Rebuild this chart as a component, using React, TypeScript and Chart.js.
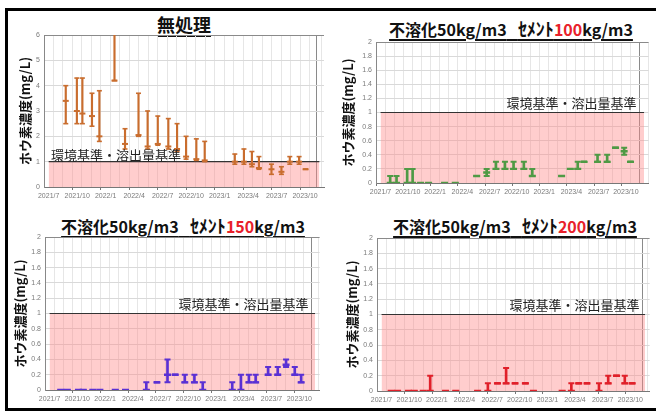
import React, { useEffect, useRef } from 'react';
import { Chart, registerables } from 'chart.js';

Chart.register(...registerables);
Chart.defaults.font.family = '"Liberation Sans", Arial, sans-serif';

// ---- data (x = months after 2021/7) ----
const xTickLabels = ['2021/7', '2021/10', '2022/1', '2022/4', '2022/7', '2022/10', '2023/1', '2023/4', '2023/7', '2023/10'];
const refLabel = '環境基準・溶出量基準';
const yAxisTitle = 'ホウ素濃度(mg/L)';
const standardValue = 1;

const untreatedMonths = [1.8, 2.97, 3.55, 4.56, 5.34, 6.93, 8.04, 9.46, 10.42, 11.49, 12.6, 13.52, 14.47, 15.55, 16.43, 19.6, 20.56, 21.4, 22.14, 23.46, 24.51, 25.39, 26.37, 27.05];
const untreatedMin = [2.5, 2.5, 2.5, 2.4, 1.8, 4.2, 1.5, 2.0, 1.5, 1.65, 1.5, 1.4, 1.1, 1.05, 1.0, 0.9, 0.9, 0.8, 0.7, 0.5, 0.5, 0.9, 0.9, 0.7];
const untreatedMax = [4.0, 4.3, 4.3, 3.7, 3.8, 7.0, 2.3, 3.7, 3.0, 2.8, 2.7, 2.5, 2.0, 1.9, 1.8, 1.3, 1.5, 1.4, 1.2, 0.9, 0.8, 1.2, 1.2, 0.7];
const untreatedMean = [3.4, 3.0, 2.9, 2.8, 2.0, 4.2, 1.7, 2.05, 1.6, 1.7, 1.6, 1.5, 1.2, 1.1, 1.05, 1.0, 1.0, 0.9, 0.75, 0.7, 0.6, 1.0, 1.0, 0.7];

const cem100Months = [1.06, 1.76, 2.93, 3.53, 4.41, 5.29, 7.05, 8.22, 10.58, 11.68, 12.7, 13.69, 14.64, 15.77, 16.7, 19.93, 20.88, 21.7, 22.4, 23.88, 24.94, 25.86, 26.81, 27.51];
const cem100Min = [0, 0, 0, 0, 0, 0, 0, 0, 0.1, 0.1, 0.2, 0.2, 0.2, 0.2, 0.1, 0.1, 0.2, 0.2, 0.3, 0.3, 0.3, 0.5, 0.4, 0.3];
const cem100Max = [0.1, 0.1, 0.2, 0.2, 0, 0, 0, 0, 0.1, 0.2, 0.3, 0.3, 0.3, 0.3, 0.2, 0.1, 0.2, 0.3, 0.3, 0.4, 0.4, 0.5, 0.5, 0.3];
const cem100Mean = [0, 0, 0, 0, 0, 0, 0, 0, 0.1, 0.15, 0.2, 0.2, 0.2, 0.2, 0.1, 0.1, 0.2, 0.2, 0.3, 0.3, 0.3, 0.5, 0.45, 0.3];

const cem150Months = [1.21, 1.91, 3.12, 3.64, 4.68, 5.44, 7.1, 8.21, 10.46, 11.61, 12.75, 13.58, 14.62, 15.66, 16.56, 19.75, 20.69, 21.55, 22.28, 23.63, 24.67, 25.57, 26.51, 27.2];
const cem150Min = [0, 0, 0, 0, 0, 0, 0, 0, 0, 0.1, 0.1, 0.2, 0.1, 0.1, 0, 0, 0, 0.1, 0.1, 0.2, 0.2, 0.3, 0.2, 0.1];
const cem150Max = [0, 0, 0, 0, 0, 0, 0, 0, 0.1, 0.1, 0.4, 0.2, 0.2, 0.2, 0.1, 0.1, 0.2, 0.2, 0.2, 0.3, 0.3, 0.4, 0.3, 0.2];
const cem150Mean = [0, 0, 0, 0, 0, 0, 0, 0, 0, 0.1, 0.2, 0.2, 0.1, 0.1, 0, 0, 0, 0.1, 0.1, 0.2, 0.2, 0.33, 0.2, 0.1];

const cem200Months = [1.04, 1.74, 2.92, 3.55, 4.52, 5.28, 6.95, 8.06, 10.43, 11.54, 12.58, 13.52, 14.49, 15.61, 16.48, 19.6, 20.6, 21.4, 22.3, 23.6, 24.6, 25.5, 26.4, 27.2];
const cem200Min = [0, 0, 0, 0, 0, 0, 0, 0, 0, 0, 0.1, 0.1, 0.1, 0.1, 0, 0, 0, 0.1, 0.1, 0, 0.1, 0.2, 0.1, 0.1];
const cem200Max = [0, 0, 0, 0, 0, 0.2, 0, 0, 0, 0.1, 0.1, 0.3, 0.1, 0.1, 0, 0, 0.1, 0.1, 0.1, 0.1, 0.2, 0.2, 0.2, 0.1];
const cem200Mean = [0, 0, 0, 0, 0, 0, 0, 0, 0, 0, 0.1, 0.1, 0.1, 0.1, 0, 0, 0, 0.1, 0.1, 0, 0.1, 0.2, 0.1, 0.1];

// ---- layout / style per panel ----
type Panel = {
  months: number[]; min: number[]; max: number[]; mean: number[];
  color: string; yMax: number; yStep: number; xMax: number;
  plot: { l: number; t: number; r: number; b: number };
  yAxisW: number; yTitlePad: number; labelAlign: 'left' | 'right'; labelPad: number; labelGap: number;
  barW: number; capR: number; capW: number;
};

const panels: Panel[] = [
  { months: untreatedMonths, min: untreatedMin, max: untreatedMax, mean: untreatedMean, color: '#c96d2e', yMax: 6, yStep: 1, xMax: 28.5,
    plot: { l: 44, t: 35, r: 325, b: 187 }, yAxisW: 44, yTitlePad: 17, labelAlign: 'left', labelPad: 7, labelGap: 0, barW: 1.5, capR: 2.5, capW: 1.6 },
  { months: cem100Months, min: cem100Min, max: cem100Max, mean: cem100Mean, color: '#4f9a45', yMax: 2, yStep: 0.2, xMax: 29,
    plot: { l: 376, t: 42, r: 650, b: 183 }, yAxisW: 40, yTitlePad: 4, labelAlign: 'right', labelPad: 12, labelGap: 3, barW: 2, capR: 3, capW: 2 },
  { months: cem150Months, min: cem150Min, max: cem150Max, mean: cem150Mean, color: '#5a30d4', yMax: 2, yStep: 0.2, xMax: 28.7,
    plot: { l: 45, t: 237, r: 321, b: 390 }, yAxisW: 44, yTitlePad: 11, labelAlign: 'right', labelPad: 11, labelGap: 3, barW: 2, capR: 3, capW: 2 },
  { months: cem200Months, min: cem200Min, max: cem200Max, mean: cem200Mean, color: '#e0202a', yMax: 2, yStep: 0.2, xMax: 28.6,
    plot: { l: 377, t: 238, r: 651, b: 391 }, yAxisW: 40, yTitlePad: 7, labelAlign: 'right', labelPad: 10, labelGap: 3, barW: 2, capR: 3, capW: 2 },
];

const PAD_TOP = 8;
const PAD_RIGHT = 5;
const X_AXIS_H = 16;

const refLabelPlugin = {
  id: 'refLabel',
  afterDatasetsDraw(chart: any, _args: any, opts: any) {
    const { ctx, chartArea, scales } = chart;
    const y = scales.y.getPixelForValue(standardValue);
    ctx.save();
    ctx.font = '13px "Noto Sans CJK JP", sans-serif';
    ctx.fillStyle = '#222';
    ctx.textBaseline = 'bottom';
    if (opts.align === 'left') {
      ctx.textAlign = 'left';
      ctx.fillText(refLabel, chartArea.left + opts.pad, y - opts.gap);
    } else {
      ctx.textAlign = 'right';
      ctx.fillText(refLabel, chartArea.right - opts.pad, y - opts.gap);
    }
    ctx.restore();
  },
};

function PanelChart({ p }: { p: Panel }) {
  const ref = useRef<HTMLCanvasElement>(null);
  const L = p.plot.l - p.yAxisW;
  const T = p.plot.t - PAD_TOP;
  const W = p.plot.r - L + PAD_RIGHT;
  const H = p.plot.b - T + X_AXIS_H;

  useEffect(() => {
    if (!ref.current) return;
    const pts = (vals: number[]) => p.months.map((x, i) => ({ x, y: vals[i] }));
    const chart = new Chart(ref.current, {
      type: 'bar',
      data: {
        datasets: [
          {
            type: 'line',
            data: [{ x: 0, y: standardValue }, { x: p.xMax, y: standardValue }],
            fill: 'origin',
            backgroundColor: 'rgba(255,135,135,0.42)',
            borderColor: '#333',
            borderWidth: 1.2,
            pointRadius: 0,
            order: 10,
          } as any,
          {
            type: 'bar',
            data: p.months.map((x, i) => ({ x, y: [p.min[i], p.max[i]] })),
            backgroundColor: p.color,
            barThickness: p.barW,
            borderWidth: 0,
            order: 3,
          } as any,
          { type: 'scatter', data: pts(p.min), pointStyle: 'line', radius: p.capR, borderWidth: p.capW, borderColor: p.color, order: 2 } as any,
          { type: 'scatter', data: pts(p.max), pointStyle: 'line', radius: p.capR, borderWidth: p.capW, borderColor: p.color, order: 2 } as any,
          { type: 'scatter', data: pts(p.mean), pointStyle: 'line', radius: p.capR + 0.5, borderWidth: p.capW + 0.4, borderColor: p.color, order: 1 } as any,
        ],
      },
      options: {
        responsive: false,
        animation: false,
        devicePixelRatio: 1,
        events: [],
        layout: { padding: { top: PAD_TOP, right: PAD_RIGHT, left: 0, bottom: 0 } },
        plugins: {
          legend: { display: false },
          tooltip: { enabled: false },
          refLabel: { align: p.labelAlign, pad: p.labelPad, gap: p.labelGap },
        } as any,
        scales: {
          x: {
            type: 'linear',
            min: 0,
            max: p.xMax,
            afterBuildTicks: (s: any) => {
              const t: any[] = [];
              for (let i = 0; i <= Math.floor(p.xMax); i++) t.push({ value: i });
              if (p.xMax > Math.floor(p.xMax)) t.push({ value: p.xMax });
              s.ticks = t;
            },
            afterFit: (s: any) => { s.height = X_AXIS_H; s.paddingLeft = 0; s.paddingRight = 0; },
            ticks: {
              autoSkip: false,
              maxRotation: 0,
              minRotation: 0,
              padding: 2,
              color: '#7a7a7a',
              font: { size: 7 },
              callback: (v: any) => {
                const n = Number(v);
                if (Number.isInteger(n) && n % 3 === 0 && n / 3 < xTickLabels.length) return xTickLabels[n / 3];
                return '';
              },
            },
            grid: {
              color: (c: any) => (c.tick && c.tick.value >= p.xMax - 1e-6 ? '#8a8a8a' : '#e6e6e6'),
              tickColor: (c: any) => (c.tick && Number.isInteger(c.tick.value) && c.tick.value % 3 === 0 ? '#777' : 'rgba(0,0,0,0)'),
              tickLength: 3,
            },
            border: { color: '#777', width: 1 },
          } as any,
          y: {
            min: 0,
            max: p.yMax,
            afterFit: (s: any) => { s.width = p.yAxisW; s.paddingTop = 0; s.paddingBottom = 0; },
            ticks: {
              stepSize: p.yStep,
              padding: 4,
              color: '#7a7a7a',
              font: { size: 7 },
              callback: (v: any) => String(Math.round(Number(v) * 10) / 10),
            },
            grid: {
              color: (c: any) => (c.tick && c.tick.value >= p.yMax - 1e-6 ? '#8a8a8a' : '#d9d9d9'),
              drawTicks: false,
            },
            border: { color: '#888', width: 1 },
            title: {
              display: true,
              text: yAxisTitle,
              color: '#111',
              font: { size: 13, weight: 'bold', family: '"Noto Sans CJK JP", sans-serif' },
              padding: { top: p.yTitlePad, bottom: 0 },
            },
          } as any,
        },
      },
      plugins: [refLabelPlugin as any],
    });
    return () => chart.destroy();
  }, []);

  return (
    <canvas
      ref={ref}
      width={W}
      height={H}
      style={{ position: 'absolute', left: L, top: T, width: W, height: H }}
    />
  );
}

const titleBase: React.CSSProperties = {
  position: 'absolute',
  fontFamily: '"Noto Sans CJK JP", sans-serif',
  fontWeight: 700,
  color: '#111',
  textDecoration: 'underline',
  textDecorationThickness: '1.5px',
  textUnderlineOffset: '3px',
  whiteSpace: 'pre',
  lineHeight: 1,
  transform: 'translateX(-50%)',
};

function CementTitle({ amount, x, y }: { amount: string; x: number; y: number }) {
  return (
    <div style={{ ...titleBase, left: x, top: y, fontSize: 16 }}>
      不溶化50kg/m3{'\u2002\u2009'}<span style={{ fontSize: 18 }}>ｾﾒﾝﾄ</span><span style={{ color: '#e8202a' }}>{amount}</span>kg/m3
    </div>
  );
}

export default function App() {
  return (
    <div style={{ position: 'fixed', left: 0, top: 0, width: 656, height: 412, overflow: 'hidden', background: '#fff' }}>
      <div style={{ position: 'absolute', left: 5, top: 8, width: 700, height: 403, border: '3px solid #000', boxSizing: 'border-box' }} />
      <div style={{ ...titleBase, left: 184, top: 15, fontSize: 18 }}>無処理</div>
      <CementTitle amount="100" x={511} y={19} />
      <CementTitle amount="150" x={183} y={216} />
      <CementTitle amount="200" x={515} y={216} />
      {panels.map((p, i) => (
        <PanelChart key={i} p={p} />
      ))}
    </div>
  );
}
